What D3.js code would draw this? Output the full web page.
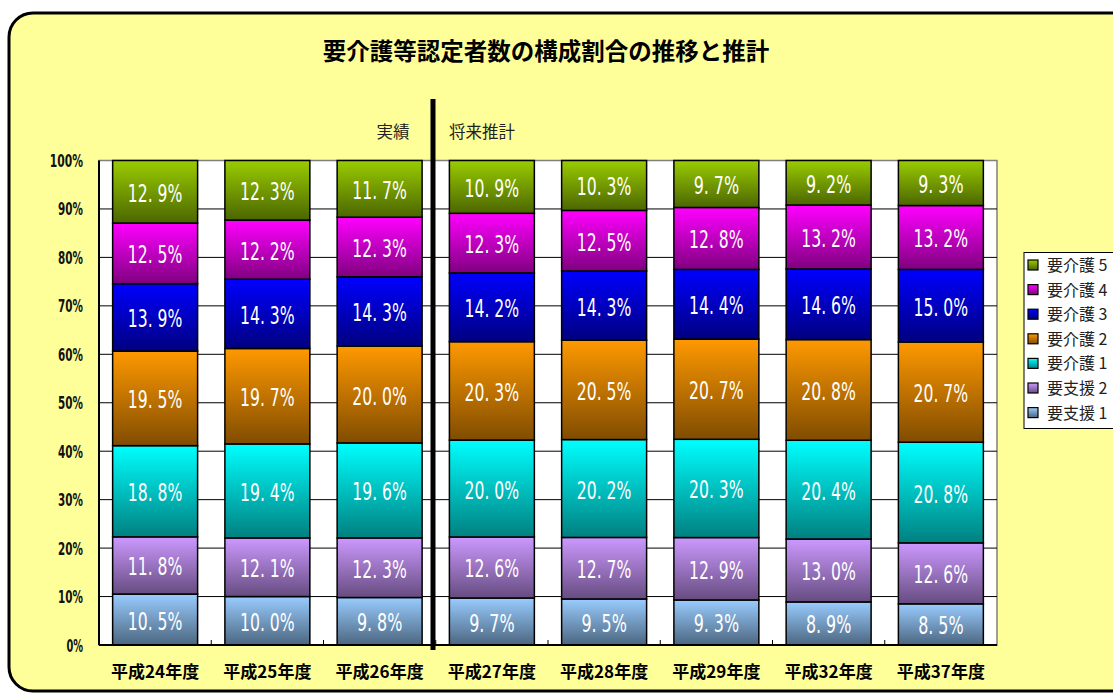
<!DOCTYPE html>
<html>
<head>
<meta charset="utf-8">
<title>要介護等認定者数の構成割合の推移と推計</title>
<style>
  body { margin: 0; background: #fff; }
  svg { display: block; }
</style>
</head>
<body>
<svg width="1113" height="693"></svg>

<script src="https://d3js.org/d3.v7.min.js"></script>
<script>

// data
var years = ["平成24年度", "平成25年度", "平成26年度", "平成27年度", "平成28年度", "平成29年度", "平成32年度", "平成37年度"];
var seriesNames = ["要支援1", "要支援2", "要介護1", "要介護2", "要介護3", "要介護4", "要介護5"];
var shien1  = [10.5, 10.0, 9.8, 9.7, 9.5, 9.3, 8.9, 8.5];
var shien2  = [11.8, 12.1, 12.3, 12.6, 12.7, 12.9, 13.0, 12.6];
var kaigo1  = [18.8, 19.4, 19.6, 20.0, 20.2, 20.3, 20.4, 20.8];
var kaigo2  = [19.5, 19.7, 20.0, 20.3, 20.5, 20.7, 20.8, 20.7];
var kaigo3  = [13.9, 14.3, 14.3, 14.2, 14.3, 14.4, 14.6, 15.0];
var kaigo4  = [12.5, 12.2, 12.3, 12.3, 12.5, 12.8, 13.2, 13.2];
var kaigo5  = [12.9, 12.3, 11.7, 10.9, 10.3, 9.7, 9.2, 9.3];
var yTicks = [0, 0.1, 0.2, 0.3, 0.4, 0.5, 0.6, 0.7, 0.8, 0.9, 1];

var seriesValues = [shien1, shien2, kaigo1, kaigo2, kaigo3, kaigo4, kaigo5];

// gradient colours: top (bright) -> bottom (dark)
var colorTop = ["#99ccff", "#cc99ff", "#00ffff", "#ff9900", "#0000ff", "#ff00ff", "#99cc00"];
var colorBot = ["#4c6680", "#664c80", "#008080", "#804c00", "#000080", "#800080", "#4c6600"];

// table for d3.stack
var table = years.map(function(yr, i) {
    var row = { year: yr };
    seriesNames.forEach(function(s, k) { row[s] = seriesValues[k][i]; });
    return row;
});

var svg = d3.select("svg");

// outer rounded frame
svg.append("rect")
    .attr("x", 9).attr("y", 13)
    .attr("width", 1140).attr("height", 678)
    .attr("rx", 24).attr("ry", 24)
    .attr("fill", "#ffff99")
    .attr("stroke", "#000")
    .attr("stroke-width", 3);

// gradients
var defs = svg.append("defs");
seriesNames.forEach(function(s, k) {
    var g = defs.append("linearGradient")
        .attr("id", "grad" + k)
        .attr("x1", 0).attr("y1", 0).attr("x2", 0).attr("y2", 1);
    g.append("stop").attr("offset", "0%").attr("stop-color", colorTop[k]);
    g.append("stop").attr("offset", "100%").attr("stop-color", colorBot[k]);
});

// plot area
var plotL = 99, plotR = 997, plotT = 160.5, plotB = 645;

var x = d3.scaleBand()
    .domain(years)
    .range([plotL, plotR])
    .paddingInner(0.243)
    .paddingOuter(0.1215);

var y = d3.scaleLinear()
    .domain([0, 1])
    .range([plotB, plotT]);

// white background of plot
svg.append("rect")
    .attr("x", plotL).attr("y", plotT)
    .attr("width", plotR - plotL).attr("height", plotB - plotT)
    .attr("fill", "#fff")
    .attr("stroke", "#808080")
    .attr("stroke-width", 1.5);

// gridlines
svg.append("g")
    .selectAll("line")
    .data(yTicks.slice(1, -1))
    .enter().append("line")
        .attr("x1", plotL).attr("x2", plotR)
        .attr("y1", function(d) { return y(d); })
        .attr("y2", function(d) { return y(d); })
        .attr("stroke", "#000")
        .attr("stroke-width", 1);

// stacked 100% bars
var stack = d3.stack().keys(seriesNames).offset(d3.stackOffsetExpand);
var layers = stack(table);

var layer = svg.append("g")
    .selectAll("g")
    .data(layers)
    .enter().append("g")
        .attr("fill", function(d, k) { return "url(#grad" + k + ")"; });

layer.selectAll("rect")
    .data(function(d) { return d; })
    .enter().append("rect")
        .attr("x", function(d) { return x(d.data.year); })
        .attr("width", x.bandwidth())
        .attr("y", function(d) { return y(d[1]); })
        .attr("height", function(d) { return y(d[0]) - y(d[1]); })
        .attr("stroke", "#000")
        .attr("stroke-width", 1.5);

// value labels
layers.forEach(function(l, k) {
    svg.append("g")
        .selectAll("text")
        .data(l)
        .enter().append("text")
            .attr("x", function(d) { return x(d.data.year) + x.bandwidth() / 2; })
            .attr("y", function(d) { return (y(d[0]) + y(d[1])) / 2 + 10; })
            .attr("text-anchor", "middle")
            .attr("fill", "#fff")
            .style("font-family", "'DejaVu Sans Condensed', 'DejaVu Sans', sans-serif")
            .style("font-size", "24px")
            .attr("lengthAdjust", "spacingAndGlyphs")
            .attr("textLength", function(d) {
                var t = d.data[l.key].toFixed(1);
                return (t.length + 2) * 9.1;
            })
            .text(function(d) { return d.data[l.key].toFixed(1).replace(".", ". ") + "%"; });
});

// axes lines
svg.append("line")
    .attr("x1", plotL).attr("x2", plotL)
    .attr("y1", plotT).attr("y2", plotB)
    .attr("stroke", "#000").attr("stroke-width", 2);
svg.append("line")
    .attr("x1", plotL).attr("x2", plotR)
    .attr("y1", plotB).attr("y2", plotB)
    .attr("stroke", "#000").attr("stroke-width", 2);

// small category ticks on x axis
svg.append("g")
    .selectAll("line")
    .data(years.slice(1))
    .enter().append("line")
        .attr("x1", function(d) { return x(d) - x.step() * x.paddingInner() / 2; })
        .attr("x2", function(d) { return x(d) - x.step() * x.paddingInner() / 2; })
        .attr("y1", plotB).attr("y2", plotB - 5)
        .attr("stroke", "#000");

// y tick labels
svg.append("g")
    .selectAll("text")
    .data(yTicks)
    .enter().append("text")
        .attr("x", 83)
        .attr("y", function(d) { return y(d) + 6.5; })
        .attr("text-anchor", "end")
        .attr("fill", "#111")
        .style("font-family", "'DejaVu Sans Condensed', 'DejaVu Sans', sans-serif")
        .style("font-weight", "bold")
        .style("font-size", "18px")
        .attr("lengthAdjust", "spacingAndGlyphs")
        .attr("textLength", function(d) { return (Math.round(d * 100) + "%").length * 8.3; })
        .text(function(d) { return Math.round(d * 100) + "%"; });

// x tick labels
svg.append("g")
    .selectAll("text")
    .data(years)
    .enter().append("text")
        .attr("x", function(d) { return x(d) + x.bandwidth() / 2; })
        .attr("y", 678)
        .attr("text-anchor", "middle")
        .attr("fill", "#000")
        .style("font-family", "'Noto Sans CJK JP', sans-serif")
        .style("font-weight", "bold")
        .style("font-size", "17px")
        .text(function(d) { return d; });

// divider between actual and projection
svg.append("line")
    .attr("x1", 433).attr("x2", 433)
    .attr("y1", 99).attr("y2", 650)
    .attr("stroke", "#000")
    .attr("stroke-width", 5);

svg.append("text")
    .attr("x", 393).attr("y", 138)
    .attr("text-anchor", "middle")
    .style("font-family", "'Noto Sans CJK JP', sans-serif")
    .style("font-size", "16.5px")
    .attr("fill", "#222")
    .text("実績");

svg.append("text")
    .attr("x", 482).attr("y", 138)
    .attr("text-anchor", "middle")
    .style("font-family", "'Noto Sans CJK JP', sans-serif")
    .style("font-size", "16.5px")
    .attr("fill", "#222")
    .text("将来推計");

// title
svg.append("text")
    .attr("x", 546).attr("y", 60)
    .attr("text-anchor", "middle")
    .style("font-family", "'Noto Sans CJK JP', sans-serif")
    .style("font-weight", "bold")
    .style("font-size", "23.5px")
    .attr("fill", "#000")
    .text("要介護等認定者数の構成割合の推移と推計");

// legend (top item = 要介護5)
var legend = svg.append("g");
legend.append("rect")
    .attr("x", 1024).attr("y", 252.5)
    .attr("width", 120).attr("height", 176)
    .attr("fill", "#fff")
    .attr("stroke", "#000")
    .attr("stroke-width", 1);

var legendOrder = seriesNames.map(function(s, k) { return k; }).reverse();
var item = legend.selectAll("g.item")
    .data(legendOrder)
    .enter().append("g")
        .attr("class", "item")
        .attr("transform", function(k, i) { return "translate(1028," + (265 + i * 24.6) + ")"; });

item.append("rect")
    .attr("x", 0).attr("y", -5)
    .attr("width", 10).attr("height", 10)
    .attr("fill", function(k) { return "url(#grad" + k + ")"; })
    .attr("stroke", "#000")
    .attr("stroke-width", 1.2);

item.append("text")
    .attr("x", 19).attr("y", 6)
    .style("font-family", "'Noto Sans CJK JP', sans-serif")
    .style("font-size", "16px")
    .attr("fill", "#222")
    .text(function(k) { return seriesNames[k].replace(/(\d)/, " $1"); });

</script>
</body>
</html>
